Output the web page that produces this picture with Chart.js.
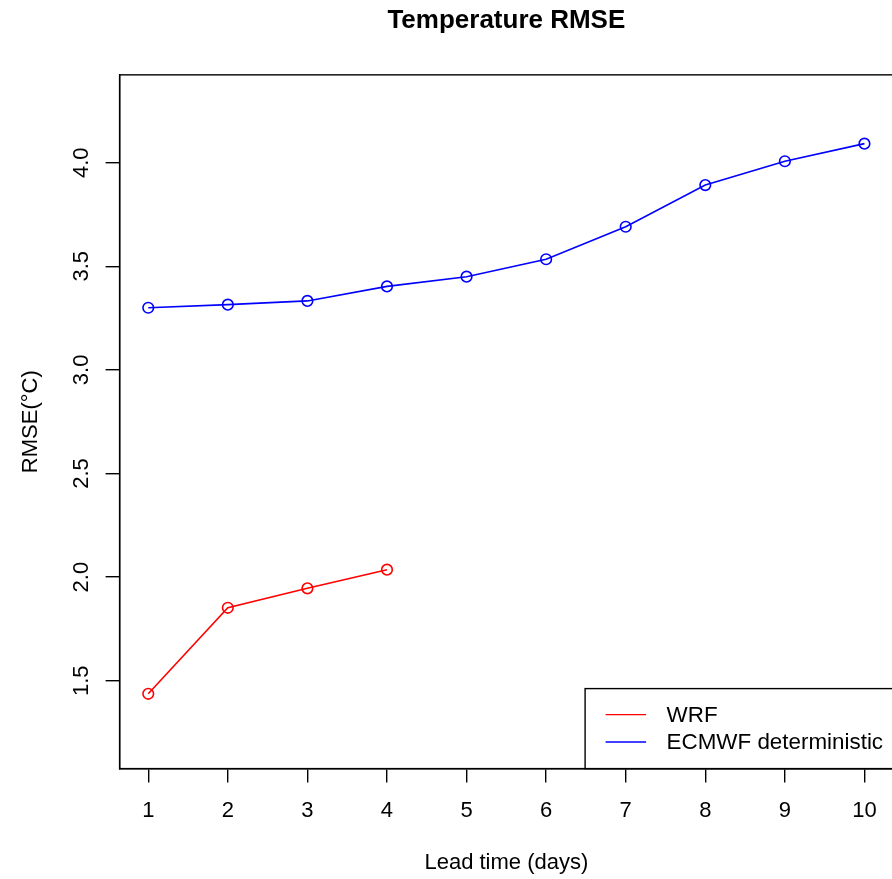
<!DOCTYPE html>
<html>
<head>
<meta charset="utf-8">
<script src="https://cdn.jsdelivr.net/npm/chart.js@4/dist/chart.umd.min.js"></script>
<style>
  html, body { margin: 0; padding: 0; background: #fff; overflow: hidden; }
  #wrap { width: 900px; height: 879px; position: relative; }
</style>
</head>
<body>
<div id="wrap"><canvas id="chart"></canvas></div>
<script>
// Lead time in days
const leadDays = [1, 2, 3, 4, 5, 6, 7, 8, 9, 10];
// Temperature RMSE (°C) per lead day
const wrfRmse = [1.437, 1.852, 1.946, 2.036];
const ecmwfRmse = [3.300, 3.315, 3.333, 3.403, 3.450, 3.534, 3.691, 3.892, 4.007, 4.092];
// Axis tick values
const xTicks = [1, 2, 3, 4, 5, 6, 7, 8, 9, 10];
const yTicks = [1.5, 2.0, 2.5, 3.0, 3.5, 4.0];
const seriesNames = ['WRF', 'ECMWF deterministic'];

const FONT = "'Liberation Sans', Arial, Helvetica, sans-serif";

const toPoints = (xs, ys) => ys.map((v, i) => ({ x: xs[i], y: v }));

// Full frame around the plotting region
const frame = {
  id: 'frame',
  afterDraw(chart) {
    const { ctx, chartArea: a } = chart;
    ctx.save();
    ctx.strokeStyle = '#000';
    ctx.lineWidth = 1.4;
    ctx.strokeRect(a.left, a.top, a.right - a.left, a.bottom - a.top);
    ctx.restore();
  }
};

// Boxed legend in the lower-right corner of the plot
const cornerLegend = {
  id: 'cornerLegend',
  afterDraw(chart) {
    const { ctx, chartArea: a } = chart;
    const left = a.right - 308, top = a.bottom - 80;
    ctx.save();
    ctx.fillStyle = '#fff';
    ctx.fillRect(left, top, a.right - left, a.bottom - top);
    ctx.strokeStyle = '#000';
    ctx.lineWidth = 1.4;
    ctx.strokeRect(left, top, a.right - left, a.bottom - top);
    ctx.font = '22.4px ' + FONT;
    ctx.textBaseline = 'middle';
    ctx.textAlign = 'left';
    chart.data.datasets.forEach((ds, i) => {
      const y = top + 26 + i * 27.4;
      ctx.strokeStyle = ds.borderColor;
      ctx.lineWidth = 1.4;
      ctx.beginPath();
      ctx.moveTo(left + 20.5, y);
      ctx.lineTo(left + 61, y);
      ctx.stroke();
      ctx.fillStyle = '#000';
      ctx.fillText(ds.label, left + 81.5, y + 1);
    });
    ctx.restore();
  }
};

const ds = (label, color, xs, ys) => ({
  label,
  data: toPoints(xs, ys),
  borderColor: color,
  backgroundColor: 'rgba(0,0,0,0)',
  borderWidth: 1.6,
  pointRadius: 5.3,
  pointHoverRadius: 5.3,
  pointBorderWidth: 1.6,
  pointBorderColor: color,
  pointBackgroundColor: 'rgba(0,0,0,0)',
  tension: 0,
  clip: false
});

new Chart(document.getElementById('chart'), {
  type: 'line',
  data: {
    datasets: [
      ds(seriesNames[0], '#ff0000', leadDays, wrfRmse),
      ds(seriesNames[1], '#0000ff', leadDays, ecmwfRmse)
    ]
  },
  options: {
    responsive: true,
    maintainAspectRatio: false,
    animation: false,
    events: [],
    layout: { padding: { left: 0, right: 6, top: 0, bottom: 0 } },
    plugins: {
      legend: { display: false },
      tooltip: { enabled: false },
      title: {
        display: true,
        text: 'Temperature RMSE',
        fullSize: false,
        color: '#000',
        font: { family: FONT, size: 26, weight: 'bold', lineHeight: 1.2 },
        padding: { top: 5, bottom: 38.65 }
      }
    },
    scales: {
      x: {
        type: 'linear',
        min: 0.64,
        max: 10.36,
        afterFit(scale) { scale.height = 110.4; },
        afterBuildTicks(scale) { scale.ticks = xTicks.map(v => ({ value: v })); },
        grid: {
          display: true,
          drawOnChartArea: false,
          drawTicks: true,
          tickLength: 14,
          color: '#000',
          lineWidth: 1.4
        },
        border: { display: true, color: '#000', width: 1.4 },
        ticks: {
          color: '#000',
          font: { family: FONT, size: 22, lineHeight: 1.2 },
          padding: 15,
          maxRotation: 0,
          minRotation: 0,
          autoSkip: false,
          callback: v => String(v)
        },
        title: {
          display: true,
          text: 'Lead time (days)',
          color: '#000',
          font: { family: FONT, size: 22, lineHeight: 1.2 },
          padding: { top: 0, bottom: 3.3 }
        }
      },
      y: {
        type: 'linear',
        min: 1.076,
        max: 4.424,
        afterFit(scale) { scale.width = 119.6; },
        afterBuildTicks(scale) { scale.ticks = yTicks.map(v => ({ value: v })); },
        grid: {
          display: true,
          drawOnChartArea: false,
          drawTicks: true,
          tickLength: 14,
          color: '#000',
          lineWidth: 1.4
        },
        border: { display: true, color: '#000', width: 1.4 },
        ticks: {
          color: '#000',
          font: { family: FONT, size: 22, lineHeight: 1.2 },
          padding: 8,
          minRotation: 90,
          maxRotation: 90,
          crossAlign: 'center',
          autoSkip: false,
          callback: v => v.toFixed(1)
        },
        title: {
          display: true,
          text: 'RMSE(°C)',
          color: '#000',
          font: { family: FONT, size: 22, lineHeight: 1.2 },
          padding: { top: 17.5, bottom: 0 }
        }
      }
    }
  },
  plugins: [frame, cornerLegend]
});
</script>
</body>
</html>
